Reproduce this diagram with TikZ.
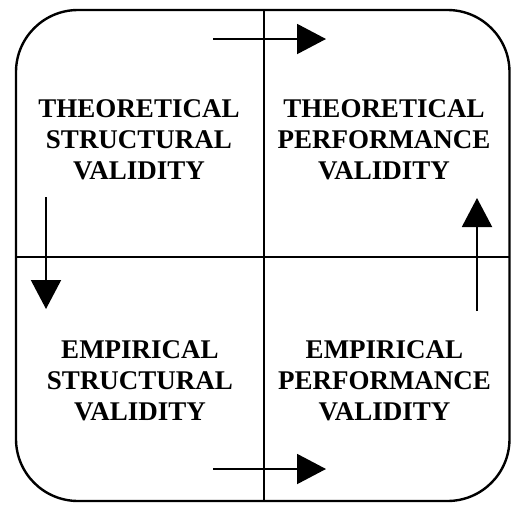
\documentclass[tikz,border=0pt]{standalone}
\usepackage{fontspec}
\setmainfont{Liberation Serif}
\usetikzlibrary{arrows.meta}
\begin{document}
\begin{tikzpicture}[x=1pt,y=-1pt,
  frame/.style={line width=2.4pt},
  divider/.style={line width=2pt},
  arr/.style={line width=2pt,-{Triangle[length=29pt,width=30pt]}},
  label/.style={align=center,inner sep=0pt,font=\fontsize{27}{31}\selectfont\bfseries}]
\useasboundingbox (0,0) rectangle (512,504);
\draw[frame,rounded corners=62pt] (16,10) rectangle (509.5,501);
\coordinate (vt) at (264,10);
\coordinate (vb) at (264,501);
\coordinate (hl) at (16,257);
\coordinate (hr) at (509.5,257);
\draw[divider] (vt) -- (vb);
\draw[divider] (hl) -- (hr);
\node[label] (tsv) at (139,139.5) {THEORETICAL\\STRUCTURAL\\VALIDITY};
\node[label] (tpv) at (384,139.5) {THEORETICAL\\PERFORMANCE\\VALIDITY};
\node[label] (esv) at (140,380.5) {EMPIRICAL\\STRUCTURAL\\VALIDITY};
\node[label] (epv) at (384.5,380.5) {EMPIRICAL\\PERFORMANCE\\VALIDITY};
\coordinate (a1s) at (213,39);
\coordinate (a1e) at (326,39);
\coordinate (a2s) at (46,197);
\coordinate (a2e) at (46,309);
\coordinate (a3s) at (477,311);
\coordinate (a3e) at (477,198);
\coordinate (a4s) at (213,469);
\coordinate (a4e) at (326,469);
\draw[arr] (a1s) -- (a1e);
\draw[arr] (a2s) -- (a2e);
\draw[arr] (a3s) -- (a3e);
\draw[arr] (a4s) -- (a4e);
\end{tikzpicture}
\end{document}
